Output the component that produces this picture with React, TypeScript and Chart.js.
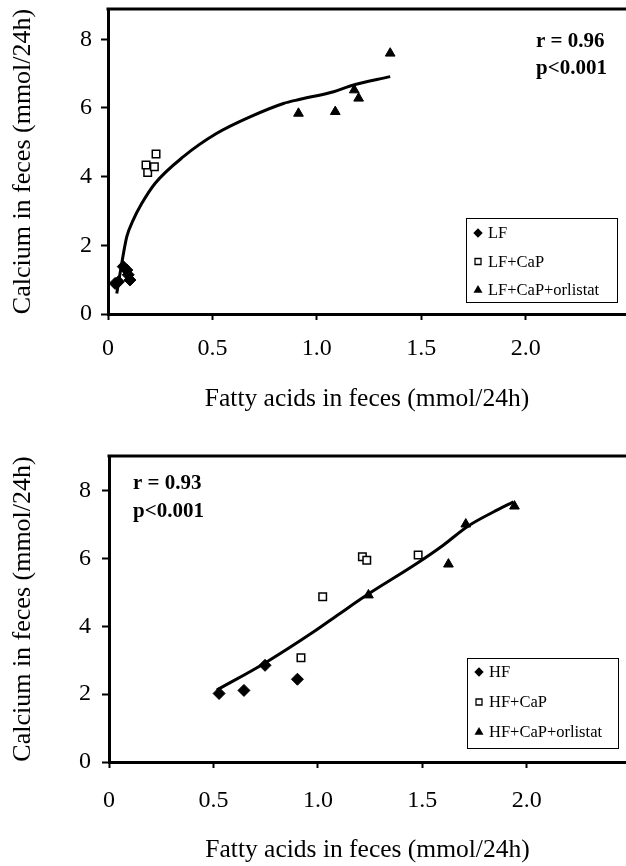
import React, { useEffect, useRef } from "react";
import { Chart, registerables } from "chart.js";

Chart.register(...registerables);

const SERIF = "'Liberation Serif', 'Times New Roman', Times, serif";

// ---------- shared axis text ----------
const xTitle = "Fatty acids in feces (mmol/24h)";
const yTitle = "Calcium in feces (mmol/24h)";
const xTickValues = [0, 0.5, 1.0, 1.5, 2.0];
const xTickLabels = ["0", "0.5", "1.0", "1.5", "2.0"];
const yTickValues = [0, 2, 4, 6, 8];
const yTickLabels = ["0", "2", "4", "6", "8"];

// ---------- Panel A: low-fat diet ----------
const lfLabels = ["LF", "LF+CaP", "LF+CaP+orlistat"];
const lfX = [0.034, 0.05, 0.073, 0.09, 0.097, 0.105];
const lfY = [0.89, 0.94, 1.38, 1.28, 1.14, 0.99];
const lfCapX = [0.182, 0.19, 0.222, 0.23];
const lfCapY = [4.34, 4.12, 4.29, 4.66];
const lfOrlX = [0.912, 1.088, 1.179, 1.2, 1.351];
const lfOrlY = [5.84, 5.89, 6.52, 6.28, 7.59];
const lfFitX = [0.042, 0.066, 0.09, 0.121, 0.16, 0.225, 0.361, 0.521, 0.68, 0.84, 0.92, 1.08, 1.16, 1.351];
const lfFitY = [0.6, 1.48, 2.25, 2.74, 3.2, 3.8, 4.58, 5.26, 5.74, 6.13, 6.25, 6.47, 6.64, 6.91];
const lfStats = ["r = 0.96", "p<0.001"];

// ---------- Panel B: high-fat diet ----------
const hfLabels = ["HF", "HF+CaP", "HF+CaP+orlistat"];
const hfX = [0.527, 0.646, 0.747, 0.902];
const hfY = [2.02, 2.11, 2.85, 2.44];
const hfCapX = [0.919, 1.023, 1.213, 1.234, 1.48];
const hfCapY = [3.07, 4.87, 6.05, 5.95, 6.1];
const hfOrlX = [1.242, 1.625, 1.708, 1.941];
const hfOrlY = [4.92, 5.83, 7.01, 7.54];
const hfFitX = [0.516, 0.747, 0.978, 1.106, 1.234, 1.473, 1.6, 1.713, 1.84, 1.936];
const hfFitY = [2.12, 2.92, 3.83, 4.38, 4.92, 5.85, 6.39, 6.93, 7.37, 7.67];
const hfStats = ["r = 0.93", "p<0.001"];

const zip = (xs: number[], ys: number[]) => xs.map((x, i) => ({ x, y: ys[i] }));

type Layout = {
  width: number;
  height: number;
  padTop: number;
  yAxisWidth: number;
  xAxisHeight: number;
  xMax: number;
  yMax: number;
  xTickPad: number;
  yTickPad: number;
  xTitlePadBottom: number;
  yTitlePadTop: number;
  legend: { left: number; top: number; width: number; height: number; rowY: number[]; markerX: number; textX: number };
  note: { x: number; y: number[] };
};

function drawMarker(ctx: CanvasRenderingContext2D, kind: string, x: number, y: number) {
  ctx.save();
  ctx.fillStyle = "#000";
  ctx.strokeStyle = "#000";
  ctx.beginPath();
  if (kind === "rectRot") {
    const r = 4.7;
    ctx.moveTo(x, y - r);
    ctx.lineTo(x + r, y);
    ctx.lineTo(x, y + r);
    ctx.lineTo(x - r, y);
    ctx.closePath();
    ctx.fill();
  } else if (kind === "rect") {
    ctx.lineWidth = 1.3;
    ctx.rect(x - 3, y - 3, 6, 6);
    ctx.fillStyle = "#fff";
    ctx.fill();
    ctx.stroke();
  } else {
    const r = 5;
    ctx.moveTo(x, y - r);
    ctx.lineTo(x + r * 0.9, y + r * 0.55);
    ctx.lineTo(x - r * 0.9, y + r * 0.55);
    ctx.closePath();
    ctx.fill();
  }
  ctx.restore();
}

function buildConfig(
  labels: string[],
  groups: { xs: number[]; ys: number[] }[],
  fit: { xs: number[]; ys: number[] },
  stats: string[],
  L: Layout
): any {
  const styles = ["rectRot", "rect", "triangle"];
  const radii = [6, 5.3, 5.6];
  const datasets: any[] = [
    {
      label: "fit",
      data: zip(fit.xs, fit.ys),
      showLine: true,
      borderColor: "#000",
      borderWidth: 3,
      pointRadius: 0,
      fill: false,
      cubicInterpolationMode: "monotone",
      order: 0,
    },
  ];
  groups.forEach((g, i) => {
    datasets.push({
      label: labels[i],
      data: zip(g.xs, g.ys),
      showLine: false,
      pointStyle: styles[i],
      pointRadius: radii[i],
      backgroundColor: i === 1 ? "#fff" : "#000",
      borderColor: "#000",
      borderWidth: i === 1 ? 1.5 : 1,
      order: 1,
    });
  });

  const frame = {
    id: "frameTop",
    afterDraw(chart: any) {
      const { ctx, chartArea } = chart;
      ctx.save();
      ctx.strokeStyle = "#000";
      ctx.lineWidth = 3;
      ctx.beginPath();
      ctx.moveTo(chartArea.left - 1.5, chartArea.top);
      ctx.lineTo(chartArea.right, chartArea.top);
      ctx.stroke();
      ctx.restore();
    },
  };

  const legendBox = {
    id: "legendBox",
    afterDraw(chart: any) {
      const { ctx } = chart;
      const g = L.legend;
      ctx.save();
      ctx.fillStyle = "#fff";
      ctx.fillRect(g.left, g.top, g.width, g.height);
      ctx.strokeStyle = "#000";
      ctx.lineWidth = 1;
      ctx.strokeRect(g.left + 0.5, g.top + 0.5, g.width, g.height);
      ctx.font = `16.5px ${SERIF}`;
      ctx.fillStyle = "#000";
      ctx.textBaseline = "middle";
      ctx.textAlign = "left";
      labels.forEach((lab, i) => {
        drawMarker(ctx, styles[i], g.markerX, g.rowY[i]);
        ctx.fillStyle = "#000";
        ctx.fillText(lab, g.textX, g.rowY[i] + 1);
      });
      ctx.restore();
    },
  };

  const note = {
    id: "statsNote",
    afterDraw(chart: any) {
      const { ctx } = chart;
      ctx.save();
      ctx.font = `bold 21px ${SERIF}`;
      ctx.fillStyle = "#000";
      ctx.textBaseline = "middle";
      ctx.textAlign = "left";
      stats.forEach((s, i) => ctx.fillText(s, L.note.x, L.note.y[i]));
      ctx.restore();
    },
  };

  return {
    type: "scatter",
    data: { datasets },
    plugins: [frame, legendBox, note],
    options: {
      responsive: false,
      animation: false,
      events: [],
      layout: { autoPadding: false, padding: { top: L.padTop, right: 0, left: 0, bottom: 0 } },
      plugins: { legend: { display: false }, tooltip: { enabled: false } },
      scales: {
        x: {
          type: "linear",
          position: "bottom",
          min: 0,
          max: L.xMax,
          afterBuildTicks(scale: any) {
            scale.ticks = xTickValues.map((v) => ({ value: v }));
          },
          afterFit(scale: any) {
            scale.height = L.xAxisHeight;
            scale.paddingLeft = 0;
            scale.paddingRight = 0;
          },
          ticks: {
            autoSkip: false,
            maxRotation: 0,
            color: "#000",
            padding: L.xTickPad,
            font: { family: SERIF, size: 24 },
            callback: (v: number) => {
              const i = xTickValues.findIndex((t) => Math.abs(t - v) < 1e-9);
              return i >= 0 ? xTickLabels[i] : "";
            },
          },
          grid: {
            drawOnChartArea: false,
            drawTicks: true,
            tickLength: 6,
            tickWidth: 2,
            tickColor: "#000",
          },
          border: { display: true, color: "#000", width: 3 },
          title: {
            display: true,
            text: xTitle,
            color: "#000",
            font: { family: SERIF, size: 25.5 },
            padding: { top: 0, bottom: L.xTitlePadBottom },
          },
        },
        y: {
          type: "linear",
          position: "left",
          min: 0,
          max: L.yMax,
          afterBuildTicks(scale: any) {
            scale.ticks = yTickValues.map((v) => ({ value: v }));
          },
          afterFit(scale: any) {
            scale.width = L.yAxisWidth;
            scale.paddingTop = 0;
            scale.paddingBottom = 0;
          },
          ticks: {
            autoSkip: false,
            color: "#000",
            padding: L.yTickPad,
            font: { family: SERIF, size: 24 },
            callback: (v: number) => {
              const i = yTickValues.findIndex((t) => Math.abs(t - v) < 1e-9);
              return i >= 0 ? yTickLabels[i] : "";
            },
          },
          grid: {
            drawOnChartArea: false,
            drawTicks: true,
            tickLength: 7,
            tickWidth: 2,
            tickColor: "#000",
          },
          border: { display: true, color: "#000", width: 3 },
          title: {
            display: true,
            text: yTitle,
            color: "#000",
            font: { family: SERIF, size: 26 },
            padding: { top: L.yTitlePadTop, bottom: 0 },
          },
        },
      },
    },
  };
}

function Panel({ config, width, height, top }: { config: any; width: number; height: number; top: number }) {
  const ref = useRef<HTMLCanvasElement | null>(null);
  useEffect(() => {
    if (!ref.current) return;
    const chart = new Chart(ref.current, config);
    return () => chart.destroy();
  }, [config]);
  return (
    <canvas
      ref={ref}
      width={width}
      height={height}
      style={{ position: "absolute", left: 0, top, width, height, display: "block" }}
    />
  );
}

const layoutA: Layout = {
  width: 626,
  height: 430,
  padTop: 9,
  yAxisWidth: 108,
  xAxisHeight: 116,
  xMax: 2.48,
  yMax: 8.88,
  xTickPad: 14,
  yTickPad: 9,
  xTitlePadBottom: 15,
  yTitlePadTop: 8,
  legend: { left: 466, top: 218, width: 151, height: 84, rowY: [233, 261.5, 290], markerX: 478, textX: 488 },
  note: { x: 536, y: [42, 69] },
};

const layoutB: Layout = {
  width: 626,
  height: 426,
  padTop: 16,
  yAxisWidth: 109,
  xAxisHeight: 104,
  xMax: 2.475,
  yMax: 9.02,
  xTickPad: 18,
  yTickPad: 11,
  xTitlePadBottom: 0,
  yTitlePadTop: 8,
  legend: { left: 467, top: 218, width: 151, height: 90, rowY: [232, 262, 292], markerX: 479, textX: 489 },
  note: { x: 133, y: [44, 72] },
};

const configA = buildConfig(
  lfLabels,
  [
    { xs: lfX, ys: lfY },
    { xs: lfCapX, ys: lfCapY },
    { xs: lfOrlX, ys: lfOrlY },
  ],
  { xs: lfFitX, ys: lfFitY },
  lfStats,
  layoutA
);

const configB = buildConfig(
  hfLabels,
  [
    { xs: hfX, ys: hfY },
    { xs: hfCapX, ys: hfCapY },
    { xs: hfOrlX, ys: hfOrlY },
  ],
  { xs: hfFitX, ys: hfFitY },
  hfStats,
  layoutB
);

export default function App() {
  return (
    <div style={{ position: "absolute", left: 0, top: 0, width: 626, height: 866, background: "#fff", overflow: "hidden" }}>
      <Panel config={configA} width={layoutA.width} height={layoutA.height} top={0} />
      <Panel config={configB} width={layoutB.width} height={layoutB.height} top={440} />
    </div>
  );
}
